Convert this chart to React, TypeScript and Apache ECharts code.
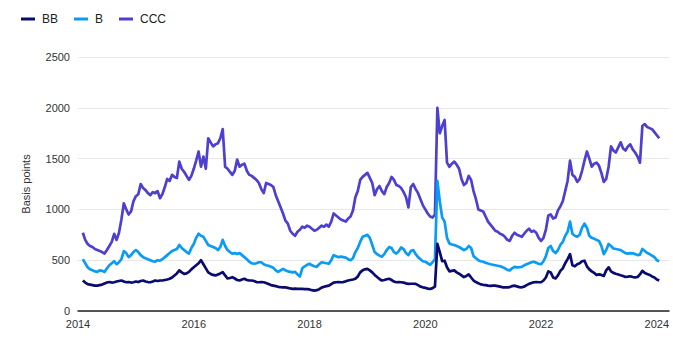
import React, { useEffect, useRef } from "react";
import * as echarts from "echarts";

// Semi-monthly observations (1st and 15th), Feb 2014 .. Jan 2024, in decimal years
const START_SLOT = 2; // 2014 + 2/24 = 1 Feb 2014
const N_POINTS = 240;
const xYears: number[] = [];
for (let i = 0; i < N_POINTS; i++) xYears.push(2014 + (START_SLOT + i) / 24);

const seriesNames = ["BB", "B", "CCC"];
const colors = ["#0b0a6e", "#0a9cf5", "#4d3fd0"];
const xTickLabels = ["2014", "2016", "2018", "2020", "2022", "2024"];
const yTickLabels = ["0", "500", "1000", "1500", "2000", "2500"];

const bbValues = [
  /*2014*/ 300, 280, 265, 260, 255, 250, 250, 255, 260, 270, 280, 285, 280, 283, 290, 295, 300, 290, 283, 285, 280, 283,
  /*2015*/ 290, 285, 295, 300, 290, 285, 283, 290, 300, 295, 300, 300, 305, 310, 317, 330, 350, 370, 400, 380, 365, 370, 385, 410,
  /*2016*/ 430, 450, 470, 500, 460, 420, 380, 365, 355, 350, 360, 370, 383, 350, 320, 325, 333, 320, 305, 300, 310, 317, 305, 300,
  /*2017*/ 300, 295, 285, 283, 285, 283, 275, 265, 255, 250, 245, 238, 235, 233, 233, 228, 222, 218, 220, 217, 218, 217, 216, 215,
  /*2018*/ 212, 205, 200, 205, 215, 230, 238, 245, 250, 265, 280, 283, 285, 283, 285, 292, 300, 305, 310, 317, 340, 380, 400, 410,
  /*2019*/ 415, 400, 380, 355, 335, 315, 300, 305, 312, 317, 305, 290, 283, 285, 283, 280, 272, 267, 268, 268, 267, 255, 240, 233,
  /*2020*/ 228, 220, 217, 225, 240, 660, 580, 490, 495, 430, 390, 395, 400, 380, 367, 350, 333, 345, 360, 330, 300, 285, 272, 262,
  /*2021*/ 258, 255, 250, 248, 250, 250, 245, 240, 233, 232, 232, 235, 245, 250, 242, 235, 233, 240, 255, 267, 275, 283, 285, 283,
  /*2022*/ 283, 300, 330, 390, 380, 330, 320, 350, 395, 420, 470, 510, 560, 450, 440, 460, 470, 490, 495, 440, 410, 390, 375, 355,
  /*2023*/ 360, 355, 345, 400, 430, 390, 375, 367, 360, 352, 345, 335, 338, 342, 335, 330, 335, 360, 395, 375, 365, 355, 340, 330,
  /*2024*/ 310, 300,
];

const bValues = [
  /*2014*/ 510, 470, 430, 410, 400, 390, 385, 400, 395, 385, 420, 450, 470, 490, 460, 480, 510, 590, 570, 530, 550, 580,
  /*2015*/ 600, 580, 550, 530, 520, 510, 500, 490, 485, 500, 495, 510, 530, 550, 570, 590, 600, 610, 650, 620, 600, 580, 565, 620,
  /*2016*/ 660, 720, 760, 740, 730, 690, 650, 640, 630, 620, 600, 630, 700, 640, 600, 580, 565, 570, 560, 570, 550, 530, 510, 485,
  /*2017*/ 470, 465, 470, 480, 480, 460, 450, 445, 435, 425, 400, 385, 400, 415, 400, 390, 385, 380, 385, 360, 340, 420, 440, 455,
  /*2018*/ 465, 450, 440, 435, 460, 480, 475, 470, 465, 500, 550, 540, 530, 535, 530, 525, 510, 500, 520, 580, 620, 680, 730, 740,
  /*2019*/ 750, 720, 650, 580, 560, 545, 535, 560, 600, 630, 620, 580, 565, 590, 625, 610, 570, 550, 590, 600, 560, 530, 510, 490,
  /*2020*/ 485, 470, 455, 480, 510, 1280, 1080, 920, 880, 720, 665, 655, 650, 640, 630, 615, 600, 610, 640, 620, 540, 520, 500, 490,
  /*2021*/ 485, 475, 467, 460, 455, 450, 445, 440, 432, 420, 405, 400, 420, 435, 430, 432, 435, 450, 460, 470, 480, 485, 475, 465,
  /*2022*/ 460, 490, 540, 620, 640, 590, 570, 600, 650, 680, 740, 780, 880, 760, 740, 730, 750, 820, 860, 820, 740, 720, 710, 700,
  /*2023*/ 690, 640, 560, 600, 660, 640, 615, 610, 605, 600, 585, 570, 565, 570, 568, 560, 550, 555, 610, 590, 570, 560, 545, 530,
  /*2024*/ 500, 490,
];

const cccValues = [
  /*2014*/ 770, 700, 660, 640, 630, 610, 600, 590, 580, 565, 600, 640, 680, 760, 700, 770, 900, 1060, 1000, 950, 980, 1080,
  /*2015*/ 1130, 1150, 1250, 1210, 1190, 1160, 1140, 1170, 1160, 1180, 1110, 1150, 1220, 1300, 1280, 1340, 1320, 1310, 1470, 1400, 1370, 1330, 1290, 1330,
  /*2016*/ 1400, 1480, 1570, 1420, 1520, 1400, 1700, 1660, 1620, 1640, 1650, 1700, 1790, 1420, 1400, 1370, 1340, 1380, 1490, 1420, 1440, 1450, 1380, 1340,
  /*2017*/ 1330, 1310, 1290, 1260, 1200, 1160, 1260, 1250, 1240, 1220, 1140, 1080, 1020, 960, 890, 860, 790, 760, 740, 780, 800, 830, 820, 840,
  /*2018*/ 830, 810, 790, 800, 820, 840, 830, 850, 830, 880, 960, 940, 920, 900, 890, 880, 910, 930, 990, 1120, 1180, 1290, 1320, 1340,
  /*2019*/ 1360, 1310, 1260, 1140, 1200, 1230, 1180, 1150, 1220, 1260, 1320, 1290, 1240, 1230, 1210, 1170, 1120, 1020, 1220, 1250, 1200, 1160, 1100, 1040,
  /*2020*/ 1000, 960, 930, 920, 950, 2000, 1750, 1820, 1880, 1460, 1420, 1450, 1470, 1440, 1400, 1300, 1240, 1260, 1330, 1290, 1180, 1100, 1000, 990,
  /*2021*/ 980, 930, 880, 850, 820, 790, 780, 760, 750, 730, 700, 690, 740, 770, 750, 740, 730, 760, 790, 810, 780, 790, 770, 720,
  /*2022*/ 690, 720, 800, 940, 950, 910, 920, 990, 1030, 1080, 1180, 1280, 1480, 1340, 1320, 1270, 1300, 1380, 1480, 1570, 1500, 1420, 1450, 1460,
  /*2023*/ 1430, 1360, 1270, 1300, 1420, 1620, 1580, 1560, 1610, 1660, 1600, 1580, 1620, 1640, 1590, 1560, 1520, 1460, 1820, 1840, 1810, 1800, 1790, 1760,
  /*2024*/ 1730, 1700,
];

const allValues = [bbValues, bValues, cccValues];

export default function App() {
  const ref = useRef<HTMLDivElement>(null);
  useEffect(() => {
    if (!ref.current) return;
    const chart = echarts.init(ref.current, undefined, { renderer: "svg" });
    const font = "Liberation Sans, Arial, sans-serif";
    chart.setOption({
      animation: false,
      textStyle: { fontFamily: font },
      legend: {
        left: 16,
        top: 8,
        itemWidth: 14,
        itemHeight: 3,
        itemGap: 16,
        icon: "rect",
        textStyle: { fontSize: 12, color: "#222", fontFamily: font, padding: [0, 0, 0, 2] },
        data: seriesNames,
      },
      grid: { left: 78, right: 4, top: 57, bottom: 29, containLabel: false },
      xAxis: {
        type: "value",
        min: 2014,
        max: 2024.21,
        interval: 2,
        axisLine: { show: true, lineStyle: { color: "#222", width: 1.5 } },
        axisTick: { show: false },
        splitLine: { show: false },
        axisLabel: {
          fontSize: 11,
          color: "#333",
          margin: 7,
          showMaxLabel: false,
          formatter: (v: number) => {
            const s = String(Math.round(v));
            return xTickLabels.includes(s) ? s : "";
          },
        },
      },
      yAxis: {
        type: "value",
        min: 0,
        max: 2500,
        interval: 500,
        name: "Basis points",
        nameLocation: "middle",
        nameGap: 47,
        nameTextStyle: { fontSize: 11, color: "#333", fontFamily: font },
        axisLine: { show: false },
        axisTick: { show: false },
        splitLine: { lineStyle: { color: "#e8e8e8", width: 1 } },
        axisLabel: {
          fontSize: 11,
          color: "#333",
          margin: 8,
          formatter: (v: number) => {
            const s = String(v);
            return yTickLabels.includes(s) ? s : "";
          },
        },
      },
      series: seriesNames.map((name, si) => ({
        name,
        type: "line",
        showSymbol: false,
        symbol: "none",
        z: 3 - si,
        color: colors[si],
        lineStyle: { width: 2.7, color: colors[si], join: "round" },
        data: xYears.map((x, i) => [x, allValues[si][i]]),
      })),
    });
    return () => chart.dispose();
  }, []);
  return <div ref={ref} style={{ width: 673, height: 340, position: "absolute", left: 0, top: 0 }} />;
}
